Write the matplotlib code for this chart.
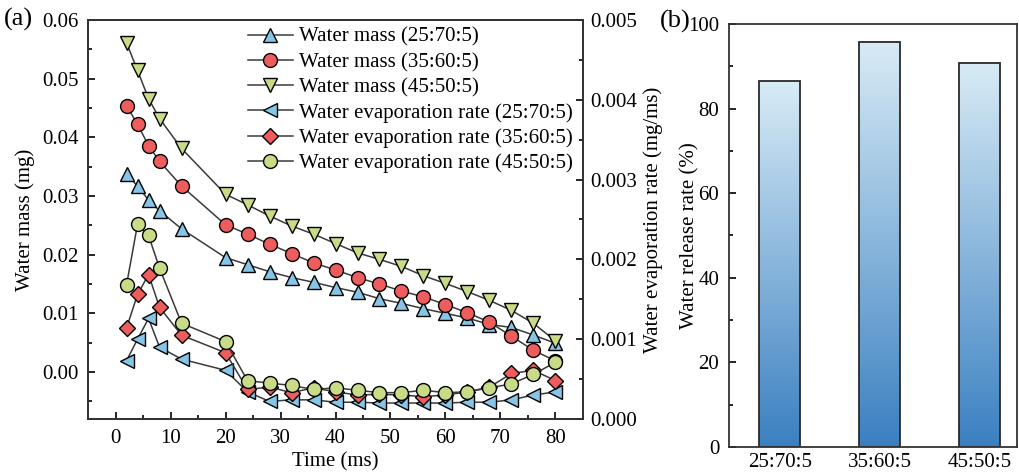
import numpy as np
import matplotlib
matplotlib.use("Agg")
import matplotlib.pyplot as plt
from matplotlib.colors import LinearSegmentedColormap
from matplotlib.ticker import MultipleLocator

plt.rcParams["font.family"] = ["Liberation Serif", "DejaVu Serif"]
plt.rcParams["font.size"] = 15

# time points (ms)
t = [2, 4, 6, 8, 12, 20, 24, 28, 32, 36, 40, 44, 48, 52, 56, 60, 64, 68, 72, 76, 80]

# water mass (mg)
mass_25 = [0.0337, 0.0317, 0.0293, 0.0275, 0.0244, 0.0195, 0.0183, 0.0171, 0.0161, 0.0153, 0.0144,
           0.0136, 0.0125, 0.0117, 0.0108, 0.0100, 0.0092, 0.0081, 0.0076, 0.0063, 0.0049]
mass_35 = [0.0454, 0.0422, 0.0386, 0.0359, 0.0317, 0.0251, 0.0235, 0.0218, 0.0202, 0.0186, 0.0174,
           0.0161, 0.0150, 0.0138, 0.0128, 0.0115, 0.0101, 0.0085, 0.0061, 0.0037, 0.0019]
mass_45 = [0.0561, 0.0514, 0.0466, 0.0432, 0.0381, 0.0303, 0.0285, 0.0266, 0.0249, 0.0235, 0.0219,
           0.0203, 0.0192, 0.0180, 0.0164, 0.0151, 0.0137, 0.0122, 0.0105, 0.0083, 0.0053]

# water evaporation rate (mg/ms)
rate_25 = [0.00073, 0.00100, 0.00126, 0.00090, 0.00075, 0.00061, 0.00034, 0.00022, 0.00024, 0.00024, 0.00021,
           0.00021, 0.00020, 0.00020, 0.00020, 0.00020, 0.00021, 0.00021, 0.00024, 0.00030, 0.00034]
rate_35 = [0.00114, 0.00156, 0.00181, 0.00140, 0.00105, 0.00083, 0.00037, 0.00040, 0.00033, 0.00039, 0.00034,
           0.00030, 0.00031, 0.00030, 0.00028, 0.00030, 0.00034, 0.00040, 0.00057, 0.00061, 0.00048]
rate_45 = [0.00168, 0.00244, 0.00230, 0.00189, 0.00120, 0.00097, 0.00048, 0.00045, 0.00042, 0.00037, 0.00039,
           0.00036, 0.00033, 0.00033, 0.00036, 0.00033, 0.00034, 0.00039, 0.00044, 0.00056, 0.00071]

# release rate bars
ratios = ["25:70:5", "35:60:5", "45:50:5"]
release = [86.5, 95.8, 90.8]

blue = "#86c5e6"
red = "#ee5d5d"
green = "#c8db86"
lc = "#3a3a3a"

fig = plt.figure(figsize=(10.19, 4.73), dpi=100)
ax = fig.add_axes([0.0864, 0.1142, 0.4857, 0.8436])
ax2 = ax.twinx()

mk = dict(markersize=10, markeredgecolor="black", markeredgewidth=1.0, color=lc, lw=1.1)
h1, = ax.plot(t, mass_25, marker="^", markerfacecolor=blue, label="Water mass (25:70:5)", **mk)
h2, = ax.plot(t, mass_35, marker="o", markerfacecolor=red, label="Water mass (35:60:5)", **mk)
h3, = ax.plot(t, mass_45, marker="v", markerfacecolor=green, label="Water mass (45:50:5)", **mk)
h4, = ax2.plot(t, rate_25, marker="<", markerfacecolor=blue, label="Water evaporation rate (25:70:5)", **mk)
h5, = ax2.plot(t, rate_35, marker="D", markerfacecolor=red, label="Water evaporation rate (35:60:5)",
               **{**mk, "markersize": 8.5})
h6, = ax2.plot(t, rate_45, marker="o", markerfacecolor=green, label="Water evaporation rate (45:50:5)", **mk)

ax.set_xlim(-5, 85)
ax.set_ylim(-0.008, 0.06)
ax2.set_ylim(0, 0.005)
ax.xaxis.set_major_locator(MultipleLocator(10))
ax.xaxis.set_minor_locator(MultipleLocator(5))
ax.yaxis.set_major_locator(MultipleLocator(0.01))
ax.yaxis.set_minor_locator(MultipleLocator(0.005))
ax2.yaxis.set_major_locator(MultipleLocator(0.001))
ax2.yaxis.set_minor_locator(MultipleLocator(0.0005))
ax.yaxis.set_major_formatter(plt.FuncFormatter(lambda v, p: f"{v:.2f}"))
ax2.yaxis.set_major_formatter(plt.FuncFormatter(lambda v, p: f"{v:.3f}"))

for a in (ax, ax2):
    for s in a.spines.values():
        s.set_linewidth(1.3)
        s.set_color("#333333")
ax.tick_params(axis="both", which="both", direction="in", top=False, right=False)
ax.tick_params(which="major", length=5, width=1.2)
ax.tick_params(which="minor", length=3, width=1.2)
ax.tick_params(axis="x", which="major", pad=7)
ax.tick_params(axis="y", which="major", pad=7)
ax2.tick_params(axis="y", which="both", direction="in")
ax2.tick_params(which="major", length=5, width=1.2, pad=5)
ax2.tick_params(which="minor", length=3, width=1.2)

ax.set_xlabel("Time (ms)", labelpad=3)
ax.set_ylabel("Water mass (mg)", labelpad=5)
ax2.set_ylabel("Water evaporation rate (mg/ms)", labelpad=5)

ax.legend(handles=[h1, h2, h3, h4, h5, h6], loc="upper left", bbox_to_anchor=(0.318, 0.987),
          frameon=False, fontsize=15, handlelength=2.2, handletextpad=0.25,
          labelspacing=0.27, borderpad=0.1, borderaxespad=0)

fig.text(0.004, 0.958, "(a)", fontsize=19, va="center", ha="left")

# bar panel
bx = fig.add_axes([0.7154, 0.0550, 0.2826, 0.8943])
cmap = LinearSegmentedColormap.from_list("bars", ["#3a80c1", "#d8ebf6"])
grad = np.linspace(0, 1, 256).reshape(-1, 1)
xs = np.arange(len(ratios))
w = 0.41
for x, v in zip(xs, release):
    bx.imshow(grad, extent=[x - w / 2, x + w / 2, 0, v], origin="lower", cmap=cmap,
              aspect="auto", zorder=1)
bx.bar(xs, release, width=w, facecolor="none", edgecolor="#2a2a2a", linewidth=1.3, zorder=2)
bx.set_xlim(-0.51, 2.37)
bx.set_ylim(0, 100)
bx.set_xticks(xs)
bx.set_xticklabels(ratios)
bx.yaxis.set_major_locator(MultipleLocator(20))
bx.yaxis.set_minor_locator(MultipleLocator(10))
bx.tick_params(axis="y", which="both", direction="in")
bx.tick_params(axis="y", which="major", length=5, width=1.2, pad=7)
bx.tick_params(axis="y", which="minor", length=3, width=1.2)
bx.tick_params(axis="x", length=0, pad=4)
for s in bx.spines.values():
    s.set_linewidth(1.3)
    s.set_color("#333333")
bx.set_ylabel("Water release rate (%)")
bx.yaxis.set_label_coords(-0.101, 0.5)
fig.text(0.648, 0.955, "(b)", fontsize=19, va="center", ha="left")

fig.savefig("out.png", dpi=100)
